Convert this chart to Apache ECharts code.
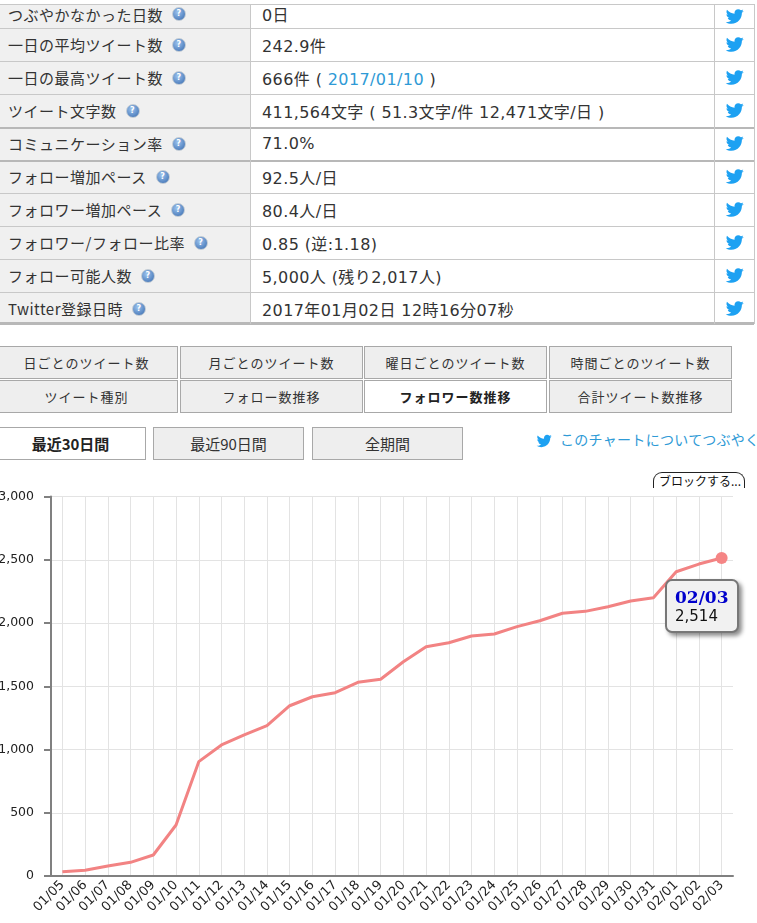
<!DOCTYPE html>
<html>
<head>
<meta charset="utf-8">
<script src="https://cdn.jsdelivr.net/npm/echarts@6.0.0/dist/echarts.min.js"></script>
<style>
body{margin:0;width:757px;height:923px;overflow:hidden;background:#fff;position:relative;
  font-family:"Noto Sans CJK JP",sans-serif;color:#333}
.line{position:absolute;left:0;width:754px;background:#c8c8c8;height:1px}
.lab{position:absolute;left:0;width:250px;background:#f0f0f0;font-size:15px;letter-spacing:.5px;
  padding-left:8px;box-sizing:border-box;display:flex;align-items:center;white-space:nowrap}
.val{position:absolute;left:251px;width:463px;font-size:16px;letter-spacing:.4px;padding-left:11px;box-sizing:border-box;
  display:flex;align-items:center;white-space:pre;font-family:"DejaVu Sans","Noto Sans CJK JP",sans-serif}
.tw{position:absolute;left:715px;width:39px;display:flex;align-items:center;justify-content:center}
.vl{position:absolute;width:1px;background:#c8c8c8}
.q{display:inline-block;width:12px;height:12px;border-radius:50%;margin-left:9px;
  background:radial-gradient(circle at 40% 35%,#9cc3ee,#3568ad);border:1px solid #c0cad4;
  color:#fff;font:bold 8px/12px "DejaVu Sans";text-align:center}
.tab{position:absolute;width:183px;height:33px;box-sizing:border-box;border:1px solid #a8a8a8;
  background:#eee;font-size:13px;letter-spacing:1px;display:flex;align-items:center;justify-content:center;color:#333}
.tab.on{background:#fff;font-weight:bold;color:#222}
.btn{position:absolute;top:427px;width:151px;height:33px;box-sizing:border-box;border:1px solid #a8a8a8;
  background:#eee;font-size:15px;display:flex;align-items:center;justify-content:center;color:#333}
.btn.on{background:#fff;font-weight:bold;color:#222}
a{color:#2e9ad6;text-decoration:none}
#block{position:absolute;left:653px;top:472px;width:92px;height:20px;box-sizing:border-box;white-space:nowrap;
  border:1px solid #222;border-bottom:none;border-radius:9px 9px 0 0;font-size:12px;padding-left:5px;line-height:15px;color:#111}
#chart{position:absolute;left:0;top:488px;width:757px;height:435px;background:#fff}
</style>
</head>
<body>
<div id="page"></div>
<div id="block">ブロックする...</div>
<div id="chart"></div>
<script>
// table rows
var rowLabels = ['つぶやかなかった日数','一日の平均ツイート数','一日の最高ツイート数','ツイート文字数',
  'コミュニケーション率','フォロー増加ペース','フォロワー増加ペース','フォロワー/フォロー比率',
  'フォロー可能人数','Twitter登録日時'];
var rowValues = ['0日','242.9件','666件 ( <a>2017/01/10</a> )','411,564文字 ( 51.3文字/件 12,471文字/日 )',
  '71.0%','92.5人/日','80.4人/日','0.85 (逆:1.18)','5,000人 (残り2,017人)','2017年01月02日 12時16分07秒'];
var tabLabels = ['日ごとのツイート数','月ごとのツイート数','曜日ごとのツイート数','時間ごとのツイート数',
  'ツイート種別','フォロー数推移','フォロワー数推移','合計ツイート数推移'];
var periodLabels = ['最近30日間','最近90日間','全期間'];

// chart data
var days = ['01/05','01/06','01/07','01/08','01/09','01/10','01/11','01/12','01/13','01/14',
  '01/15','01/16','01/17','01/18','01/19','01/20','01/21','01/22','01/23','01/24',
  '01/25','01/26','01/27','01/28','01/29','01/30','01/31','02/01','02/02','02/03'];
var followers = [34,45,79,108,166,403,904,1036,1115,1188,
  1346,1417,1449,1531,1555,1694,1813,1844,1897,1913,
  1971,2018,2077,2092,2129,2174,2200,2405,2466,2514];
var yTicks = [0,500,1000,1500,2000,2500,3000];

var bird = '<svg width="SZ" height="SZ" viewBox="0 0 24 24"><path fill="#1da1f2" d="M23.643 4.937c-.835.37-1.732.62-2.675.733.962-.576 1.7-1.49 2.048-2.578-.9.534-1.897.922-2.958 1.13-.85-.904-2.06-1.470-3.400-1.470-2.572 0-4.658 2.086-4.658 4.660 0 .364.042.718.120 1.060-3.873-.195-7.304-2.050-9.602-4.868-.4.690-.630 1.490-.630 2.342 0 1.616.823 3.043 2.072 3.878-.764-.025-1.482-.234-2.110-.583v.060c0 2.257 1.605 4.140 3.737 4.568-.392.106-.803.162-1.227.162-.3 0-.593-.028-.877-.082.593 1.850 2.313 3.198 4.352 3.234-1.595 1.250-3.604 1.995-5.786 1.995-.376 0-.747-.022-1.112-.065 2.062 1.323 4.510 2.093 7.140 2.093 8.570 0 13.255-7.098 13.255-13.254 0-.2-.005-.402-.014-.602.910-.658 1.700-1.477 2.323-2.410z"/></svg>';

var rowTops = [4,28,61,94,127,160,193,226,259,292,325];
var html = '';
for (var i = 0; i < rowLabels.length; i++) {
  var t = rowTops[i], h = rowTops[i + 1] - t;
  // first row is cut off at the top of the screenshot
  var shift = i == 0 ? 'padding-bottom:4px;' : '';
  html += '<div class="lab" style="top:' + t + 'px;height:' + h + 'px;' + shift + '">' + rowLabels[i] + '<span class="q">?</span></div>';
  html += '<div class="val" style="top:' + t + 'px;height:' + h + 'px;' + shift + '"><span>' + rowValues[i] + '</span></div>';
  html += '<div class="tw" style="top:' + t + 'px;height:' + h + 'px;' + shift + '">' + bird.replace(/SZ/g, 19) + '</div>';
}
for (var i = 0; i < rowTops.length; i++) {
  var thick = (i == 4 || i == 5);
  var last = i == rowTops.length - 1;
  var hh = last ? 3 : (thick ? 2 : 1);
  var yy = last ? 322 : rowTops[i];
  html += '<div class="line" style="top:' + yy + 'px;height:' + hh + 'px;' + (thick || last ? 'background:#b8b8b8' : '') + '"></div>';
}
html += '<div class="vl" style="left:250px;top:4px;height:320px"></div>';
html += '<div class="vl" style="left:714px;top:4px;height:320px"></div>';
html += '<div class="vl" style="left:754px;top:4px;height:320px"></div>';

var tabLeft = [-5,180,364,549];
for (var i = 0; i < tabLabels.length; i++) {
  var tabTop = i < 4 ? 346 : 380;
  html += '<div class="tab' + (i == 6 ? ' on' : '') + '" style="left:' + tabLeft[i % 4] + 'px;top:' + tabTop + 'px">' + tabLabels[i] + '</div>';
}
var btnLeft = [-5,153,312];
for (var i = 0; i < periodLabels.length; i++) {
  html += '<div class="btn' + (i == 0 ? ' on' : '') + '" style="left:' + btnLeft[i] + 'px">' + periodLabels[i] + '</div>';
}
html += '<div style="position:absolute;left:536px;top:430px;">' + bird.replace(/SZ/g, 16) + '</div>';
html += '<div style="position:absolute;left:560px;top:429px;font-size:14px;letter-spacing:.3px;white-space:nowrap"><a>このチャートについてつぶやく</a></div>';
document.getElementById('page').innerHTML = html;

var chart = echarts.init(document.getElementById('chart'));
var lastIdx = followers.length - 1;
var option = {
  animation: false,
  grid: { left: 51, right: 24, top: 8.5, bottom: 47, outerBoundsMode: 'none' },
  tooltip: {
    trigger: 'item',
    alwaysShowContent: true,
    transitionDuration: 0,
    backgroundColor: '#f1f1f1',
    borderColor: '#777',
    borderWidth: 2,
    padding: [7, 8, 6, 8],
    extraCssText: 'border-radius:7px;box-shadow:3px 3px 4px rgba(0,0,0,0.45);',
    formatter: function (p) {
      return '<div style="font:bold 17px/19px \'DejaVu Serif\';color:#0000cc">' + days[p.dataIndex] + '</div>' +
        '<div style="font:15px/18px \'DejaVu Sans\';color:#111">' + followers[p.dataIndex].toLocaleString('en-US') + '</div>';
    },
    position: function () {
      var pt = chart.convertToPixel({ seriesIndex: 0 }, [lastIdx, followers[lastIdx]]);
      return [pt[0] - 57, pt[1] + 21];
    }
  },
  xAxis: {
    type: 'category',
    data: days,
    boundaryGap: true,
    axisLine: { lineStyle: { color: '#808080', width: 2 } },
    axisTick: { alignWithLabel: true, length: 5, lineStyle: { color: '#808080', width: 2 } },
    axisLabel: { interval: 0, rotate: 45, margin: 7, color: '#222', fontSize: 13, fontFamily: 'DejaVu Sans' },
    splitLine: { show: true, alignWithLabel: true, lineStyle: { color: '#e3e3e3', width: 1 } }
  },
  yAxis: {
    type: 'value',
    min: yTicks[0],
    max: yTicks[yTicks.length - 1],
    interval: 500,
    axisLine: { show: true, lineStyle: { color: '#808080', width: 2 } },
    axisTick: { show: true, length: 7, lineStyle: { color: '#808080', width: 2 } },
    axisLabel: { margin: 17, color: '#222', fontSize: 12.5, fontFamily: 'DejaVu Sans',
      formatter: function (v) { return v.toLocaleString('en-US'); } },
    splitLine: { lineStyle: { color: '#e3e3e3', width: 1 } }
  },
  series: [{
    type: 'line',
    data: followers.map(function (v, i) {
      return i == lastIdx ? { value: v, symbol: 'circle', symbolSize: 12 } : v;
    }),
    symbol: 'none',
    showSymbol: true,
    showAllSymbol: true,
    lineStyle: { color: '#f28383', width: 3 },
    itemStyle: { color: '#f58585' },
    emphasis: { disabled: true }
  }]
};
chart.setOption(option);
chart.dispatchAction({ type: 'showTip', seriesIndex: 0, dataIndex: lastIdx });
</script>
</body>
</html>
